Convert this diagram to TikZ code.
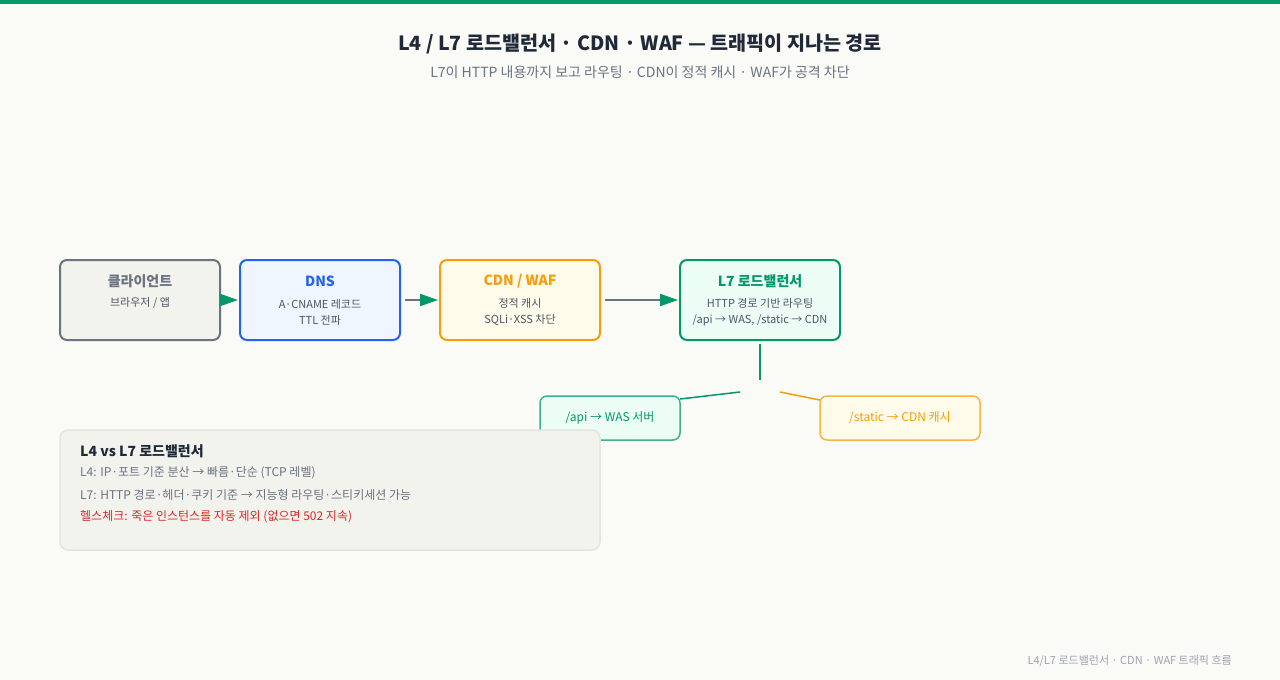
\documentclass[tikz,border=0pt]{standalone}
\usepackage{fontspec}
\setmainfont{Noto Sans CJK KR}
\usetikzlibrary{arrows.meta}
\definecolor{bg}{HTML}{FAFAF7}
\definecolor{brand}{HTML}{059669}
\definecolor{ink}{HTML}{1F2937}
\definecolor{muted}{HTML}{6B7280}
\definecolor{sub}{HTML}{4B5563}
\definecolor{faint}{HTML}{9CA3AF}
\definecolor{gfill}{HTML}{F3F3EE}
\definecolor{gline}{HTML}{6B7280}
\definecolor{blue}{HTML}{2563EB}
\definecolor{bfill}{HTML}{EFF6FF}
\definecolor{amber}{HTML}{F59E0B}
\definecolor{afill}{HTML}{FFFBEB}
\definecolor{efill}{HTML}{ECFDF5}
\definecolor{red}{HTML}{DC2626}
\definecolor{noteline}{HTML}{E5E5E0}
\tikzset{
  stagebox/.style={draw=#1, line width=2pt, rounded corners=7pt, minimum width=160pt, minimum height=80pt, inner sep=0pt},
  leafbox/.style={draw=#1, draw opacity=0.75, line width=1.5pt, rounded corners=7pt, inner sep=0pt},
  ttl/.style={font=\fontsize{14}{16}\selectfont\bfseries, text=#1},
  det/.style={font=\fontsize{11}{16}\selectfont, text=sub, align=center},
  flow/.style={draw=gline, line width=2pt, -{Triangle[length=18pt,width=12pt,color=brand,fill=brand]}},
  notetxt/.style={font=\fontsize{12}{14}\selectfont, anchor=west, inner sep=0pt, text=muted},
}
\begin{document}
\begin{tikzpicture}[x=1pt,y=-1pt]
\useasboundingbox (0,0) rectangle (1280,680);
\fill[bg] (0,0) rectangle (1280,680);
\fill[brand] (0,0) rectangle (1280,4);

\node[font=\fontsize{19.6}{24}\selectfont\bfseries, text=ink] (title) at (640,44) {L4 / L7 로드밸런서 · CDN · WAF — 트래픽이 지나는 경로};
\node[font=\fontsize{14}{16}\selectfont, text=muted] (subtitle) at (640,72) {L7이 HTTP 내용까지 보고 라우팅 · CDN이 정적 캐시 · WAF가 공격 차단};

% stage boxes
\node[stagebox=gline, fill=gfill] (client) at (140,300) {};
\node[ttl=muted] (clientT) at (140,281) {클라이언트};
\node[det] (clientD) at (140,303) {브라우저 / 앱};

\node[stagebox=blue, fill=bfill] (dns) at (320,300) {};
\node[ttl=blue] (dnsT) at (320,281) {DNS};
\node[det] (dnsD) at (320,312) {A·CNAME 레코드\\TTL 전파};

\node[stagebox=amber, fill=afill] (cdn) at (520,300) {};
\node[ttl=amber] (cdnT) at (520,281) {CDN / WAF};
\node[det] (cdnD) at (520,312) {정적 캐시\\SQLi·XSS 차단};

\node[stagebox=brand, fill=efill] (lb) at (760,300) {};
\node[ttl=brand] (lbT) at (760,281) {L7 로드밸런서};
\node[det] (lbD) at (760,312) {HTTP 경로 기반 라우팅\\/api → WAS, /static → CDN};

% arrows
\coordinate (c1s) at ([xshift=4pt]client.east);
\coordinate (c1e) at ([xshift=-1pt]dns.west);
\draw[flow] (c1s) -- (c1e);
\draw[flow, shorten <=4pt, shorten >=1pt] (dns.east) -- (cdn.west);
\draw[flow, shorten <=4pt, shorten >=1pt] (cdn.east) -- (lb.west);

% leaves
\node[leafbox=brand, fill=efill, minimum width=140pt, minimum height=44pt] (api) at (610,418) {};
\node[font=\fontsize{12}{14}\selectfont, text=brand] (apiT) at (610,418) {/api → WAS 서버};
\node[leafbox=amber, fill=afill, minimum width=160pt, minimum height=44pt] (stat) at (900,418) {};
\node[font=\fontsize{12}{14}\selectfont, text=amber] (statT) at (900,418) {/static → CDN 캐시};

\coordinate (v1) at (760,344);
\coordinate (v2) at (760,380);
\coordinate (gl) at (740,392);
\coordinate (ol) at (780,392);
\coordinate (apiEnd) at (680,399);
\coordinate (statEnd) at (820,400);
\draw[brand, line width=2pt] (v1) -- (v2);
\draw[brand, line width=1.5pt] (gl) -- (apiEnd);
\draw[amber, line width=1.5pt] (ol) -- (statEnd);

% note box
\node[draw=noteline, line width=1.5pt, fill=gfill, rounded corners=8pt, minimum width=540pt, minimum height=120pt, inner sep=0pt] (note) at (330,490) {};
\node[font=\fontsize{14}{16}\selectfont\bfseries, text=ink, anchor=west, inner sep=0pt] (noteT) at (80,451) {L4 vs L7 로드밸런서};
\node[notetxt] (n1) at (80,473) {L4: IP·포트 기준 분산 → 빠름·단순 (TCP 레벨)};
\node[notetxt] (n2) at (80,495) {L7: HTTP 경로·헤더·쿠키 기준 → 지능형 라우팅·스티키세션 가능};
\node[notetxt, text=red] (n3) at (80,517) {헬스체크: 죽은 인스턴스를 자동 제외 (없으면 502 지속)};

\node[font=\fontsize{11}{13}\selectfont, text=faint, anchor=east, inner sep=0pt] (foot) at (1232,661) {L4/L7 로드밸런서 · CDN · WAF 트래픽 흐름};
\end{tikzpicture}
\end{document}
